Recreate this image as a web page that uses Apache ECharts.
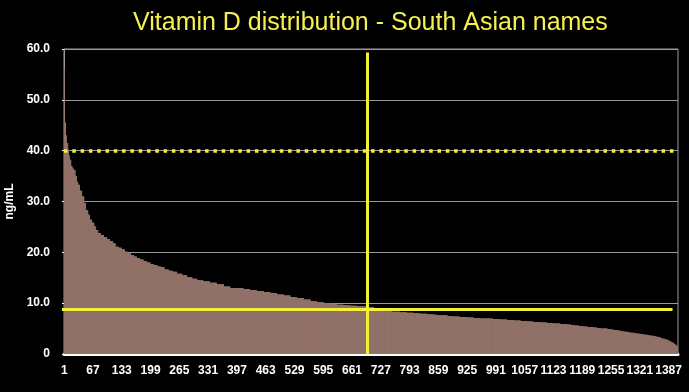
<!DOCTYPE html>
<html>
<head>
<meta charset="utf-8">
<script src="https://cdn.jsdelivr.net/npm/echarts@6/dist/echarts.min.js"></script>
<style>
html,body{margin:0;padding:0;background:#000;}
#c{width:689px;height:392px;}
</style>
</head>
<body>
<div id="c"></div>
<script>
// Sorted vitamin D levels (ng/mL): each level and how many patients share it
const levels = [56.0,46.5,45.5,43.0,41.5,40.2,39.0,38.2,37.0,36.5,36.2,35.0,33.9,33.3,32.1,31.0,29.7,28.3,27.4,26.4,25.8,25.1,24.4,23.8,23.4,23.0,22.6,22.2,21.8,21.1,20.9,20.6,20.1,19.9,19.5,19.2,18.9,
18.6,18.3,18.0,17.7,17.5,17.2,17.1,16.6,16.4,16.2,15.8,15.5,15.1,14.8,14.5,14.3,14.0,13.7,13.3,13.0,12.8,12.6,12.4,12.2,12.0,11.7,11.5,11.2,11.0,10.7,10.4,10.2,10.0,9.9,9.7,9.6,9.5,9.4,9.2,9.0,8.7,
8.5,8.4,8.3,8.2,8.1,8.0,7.9,7.8,7.7,7.6,7.5,7.4,7.3,7.2,7.1,7.0,6.9,6.8,6.7,6.6,6.5,6.4,6.3,6.2,6.1,6.0,5.9,5.8,5.7,5.6,5.5,5.4,5.3,5.2,5.1,5.0,4.9,4.8,4.7,4.6,4.5,4.4,4.3,4.2,4.1,4.0,3.9,3.8,3.7,3.6,3.5,3.4,3.3,3.1,3.0,2.9,2.8,2.6,2.5,2.3,2.2,2.0,1.8,1.6,1.4];
const counts = [1,1,2,2,3,2,2,3,3,3,4,3,3,4,5,5,4,5,4,5,5,4,5,6,7,7,7,7,6,7,7,7,7,7,7,7,7,
8,8,8,8,8,8,8,10,9,10,12,11,12,11,14,15,16,16,15,30,15,16,16,15,15,16,15,15,16,15,15,16,15,14,16,15,16,25,14,7,8,
12,14,18,16,15,16,15,15,8,24,10,18,17,15,16,28,17,16,15,16,15,14,16,16,14,16,16,8,8,10,10,10,14,8,8,16,6,8,8,8,8,8,6,8,8,8,8,8,6,8,5,5,6,4,5,4,4,4,3,3,3,3,3,2,2];
const yTicks = [0,10,20,30,40,50,60];
const targetLine = 40;      // dotted reference line
const medianValue = 8.9;    // horizontal solid line
const medianCategory = '696';
const lineTop = 59.3;

const values = [];
levels.forEach((v,i)=>{ for(let k=0;k<counts[i];k++) values.push(v); });
const categories = values.map((_,i)=>String(i+1));

const yellow = '#f4f03a';
const font = 'Liberation Sans, Arial, sans-serif';
const chart = echarts.init(document.getElementById('c'));
chart.setOption({
  backgroundColor:'#000',
  animation:false,
  title:{
    text:'Vitamin D distribution - South Asian names',
    left:128, top:6,
    textStyle:{color:'#f6f050',fontSize:25,fontWeight:'normal',fontFamily:font}
  },
  grid:{left:64,right:11,top:49,bottom:38,show:true,borderColor:'#9a9a9a',borderWidth:1,
        containLabel:false,outerBoundsMode:'none'},
  xAxis:{
    type:'category',
    data:categories,
    axisLine:{show:true,lineStyle:{color:'#ffffff',width:3}},
    axisTick:{show:false},
    axisLabel:{interval:65,color:'#fff',fontSize:12,fontWeight:'bold',margin:11,fontFamily:font},
    splitLine:{show:false}
  },
  yAxis:{
    type:'value',min:yTicks[0],max:yTicks[yTicks.length-1],interval:10,
    name:'ng/mL',nameLocation:'middle',nameRotate:90,nameGap:44,
    nameTextStyle:{color:'#fff',fontSize:12,fontWeight:'bold',fontFamily:font},
    axisLine:{show:true,lineStyle:{color:'#9a9a9a',width:1}},
    axisTick:{show:true,length:2,lineStyle:{color:'#fff'}},
    axisLabel:{color:'#fff',fontSize:12,fontWeight:'bold',margin:14,fontFamily:font,
      formatter:v=> v===0?'0':v.toFixed(1)},
    splitLine:{show:true,lineStyle:{color:'#9a9a9a',width:1}}
  },
  series:[{
    type:'bar',
    data:values,
    barCategoryGap:'0%',
    itemStyle:{color:'#93736a'},
    markLine:{
      silent:true,symbol:'none',
      label:{show:false},
      data:[
        {yAxis:targetLine,lineStyle:{color:yellow,width:3.5,type:[3.5,4.8]}},
        [{coord:['1',medianValue],x:62,lineStyle:{color:yellow,width:3,type:'solid'}},{coord:['1396',medianValue]}],
        [{coord:[medianCategory,0],lineStyle:{color:yellow,width:3,type:'solid'}},{coord:[medianCategory,lineTop]}]
      ]
    }
  }]
});
</script>
</body>
</html>
